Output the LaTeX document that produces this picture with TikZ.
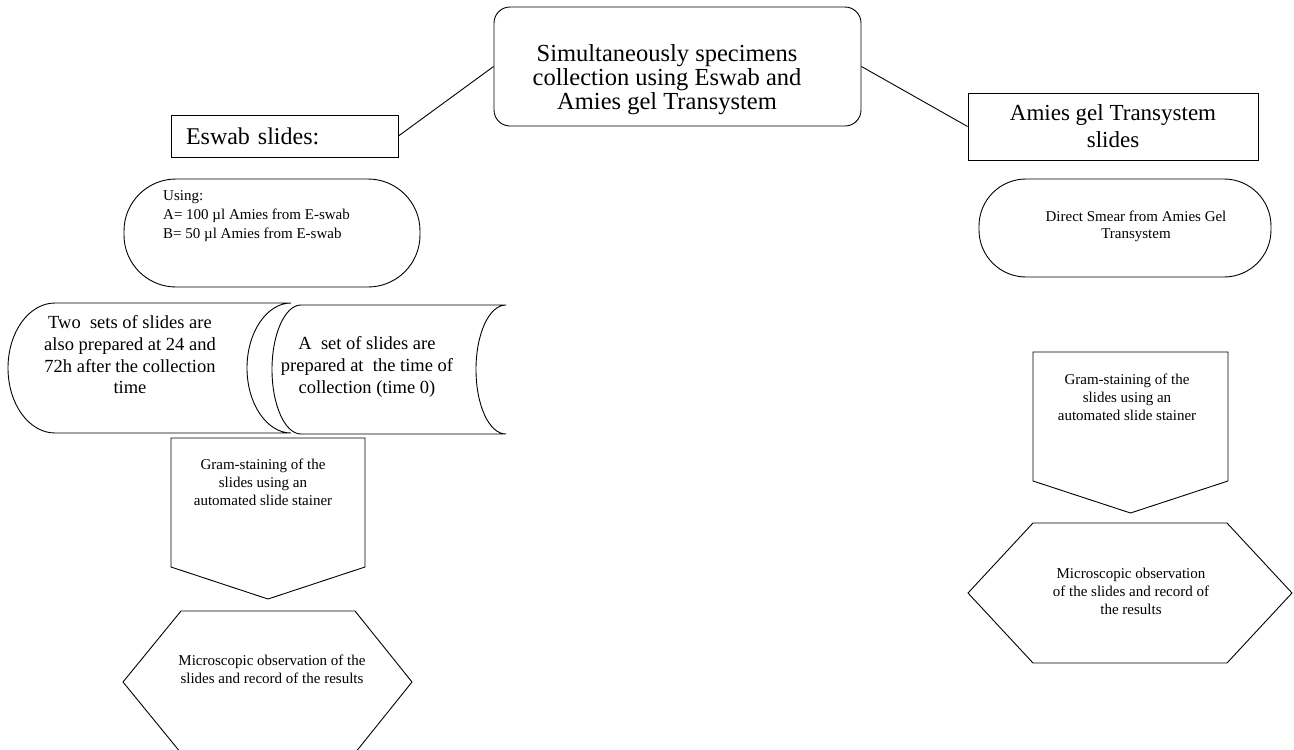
\documentclass[tikz,border=0pt]{standalone}
\usepackage{fontspec}
\setmainfont{Liberation Serif}

\begin{document}
\begin{tikzpicture}[x=1pt,y=1pt,yscale=-1,xscale=1,
  outl/.style={draw=black, line width=0.9pt},
  bigtxt/.style={font=\fontsize{24.5}{24}\selectfont},
  midtxt/.style={font=\fontsize{18.5}{21.7}\selectfont},
  smltxt/.style={font=\fontsize{15}{18}\selectfont}]
\useasboundingbox (0,0) rectangle (1294,750);
\clip (0,0) rectangle (1294,750);

%Shape: Rounded Rect
\node [outl, rounded corners=16pt, minimum width=367pt, minimum height=119pt] (collect) at (677.5,66.5) {};
% Text Node
\node [inner sep=0pt, align=center, bigtxt] (collecttxt) at (667,80) {Simultaneously specimens\\collection using Eswab and\\Amies gel Transystem};
%Shape: Rectangle
\node [outl, minimum height=42pt, text width=197pt, inner xsep=15pt, align=left, font=\fontsize{24}{26}\selectfont] (eswab) at (284.5,136) {Eswab slides:};
%Shape: Rectangle
\node [outl, minimum width=290pt, minimum height=67pt, align=center, font=\fontsize{23}{27}\selectfont] (amies) at (1113,126.5) {Amies gel Transystem\\slides};

%Straight Lines
\draw [outl] (collect.west) -- (eswab.east) ;
%Straight Lines
\draw [outl] (collect.east) -- (amies.west) ;

%Shape: Pill
\node [outl, rounded corners=52pt, minimum width=296pt, minimum height=108pt] (usingbox) at (272,233) {};
% Text Node
\node [anchor=north west, inner sep=0pt, align=left, font=\fontsize{15}{19}\selectfont] (usingtxt) at (163,190) {Using:\\A= 100 µl Amies from E-swab\\B= 50 µl Amies from E-swab};

%Shape: Pill
\node [outl, rounded corners=47pt, minimum width=292pt, minimum height=98pt] (smearbox) at (1125,228) {};
% Text Node
\node [inner sep=0pt, align=center, font=\fontsize{15}{17.5}\selectfont] (smeartxt) at (1136,226.5) {Direct Smear from Amies Gel\\Transystem};

%Shape: Stored Data
\draw [outl] (55,303) -- (291,303) .. controls (267,303) and (247,332) .. (247,368) .. controls (247,404) and (267,433) .. (291,433) -- (55,433) .. controls (29,433) and (8,404) .. (8,368) .. controls (8,332) and (29,303) .. (55,303) -- cycle ;
% Text Node
\node [inner sep=0pt, align=center, midtxt] (latertxt) at (130,355) {Two~ sets of slides are\\also prepared at 24 and\\72h after the collection\\time};

%Shape: Stored Data
\draw [outl] (301,305) -- (506,305) .. controls (489,305) and (476,334) .. (476,369.5) .. controls (476,405) and (489,434) .. (506,434) -- (301,434) .. controls (285,434) and (272,405) .. (272,369.5) .. controls (272,334) and (285,305) .. (301,305) -- cycle ;
% Text Node
\node [inner sep=0pt, align=center, midtxt] (zerotxt) at (367,367) {A~ set of slides are\\prepared at~ the time of\\collection (time 0)};

%Shape: Off-page Connector
\draw [outl] (171,438) -- (365,438) -- (365,567) -- (268,599) -- (171,567) -- cycle ;
% Text Node
\node [inner sep=0pt, align=center, smltxt] (gramL) at (263,482) {Gram-staining of the\\slides using an\\automated slide stainer};

%Shape: Off-page Connector
\draw [outl] (1033,352) -- (1228,352) -- (1228,481) -- (1130.5,513) -- (1033,481) -- cycle ;
% Text Node
\node [inner sep=0pt, align=center, smltxt] (gramR) at (1127,397) {Gram-staining of the\\slides using an\\automated slide stainer};

%Shape: Hexagon
\draw [outl] (123,682) -- (181,611) -- (355,611) -- (412,682) -- (355,753) -- (181,753) -- cycle ;
% Text Node
\node [inner sep=0pt, align=center, smltxt] (microL) at (272,669) {Microscopic observation of the\\slides and record of the results};

%Shape: Hexagon
\draw [outl] (968,593) -- (1033,523) -- (1227,523) -- (1292,593) -- (1227,663) -- (1033,663) -- cycle ;
% Text Node
\node [inner sep=0pt, align=center, smltxt] (microR) at (1131,591) {Microscopic observation\\of the slides and record of\\the results};

\end{tikzpicture}
\end{document}
